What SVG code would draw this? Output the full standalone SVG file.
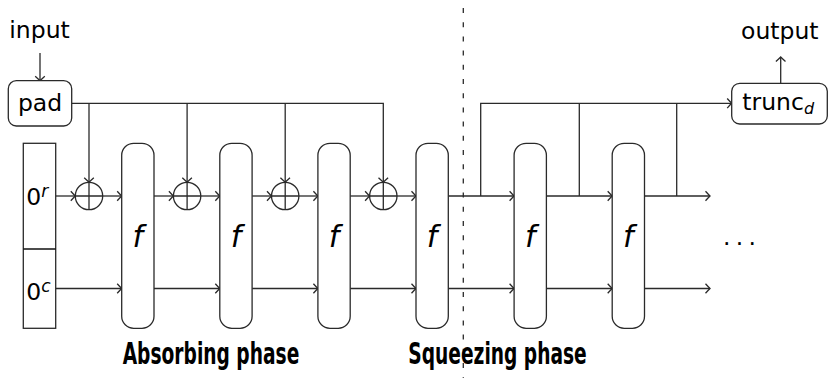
<svg xmlns="http://www.w3.org/2000/svg" width="828" height="378" viewBox="0 0 828 378">
<style>
.ln{fill:none;stroke:#2a2a2a;stroke-width:1.3}
.ar{marker-end:url(#to)}
.box{fill:#fff;stroke:#2a2a2a;stroke-width:1.3}
.t{font-family:"DejaVu Sans",sans-serif;font-size:23.5px;fill:#000}
.it{font-style:italic}
.f{font-family:"DejaVu Sans",sans-serif;font-style:italic;font-size:30px;text-anchor:middle}
.b{font-family:"DejaVu Sans",sans-serif;font-weight:bold;font-size:30px}
</style>
<defs>
<marker id="to" markerUnits="userSpaceOnUse" markerWidth="12" markerHeight="12" refX="0" refY="0" viewBox="-6 -6 12 12" orient="auto" overflow="visible">
<path d="M-4.5,-4.8 Q-1.2,-1.2 0,0 Q-1.2,1.2 -4.5,4.8" fill="none" stroke="#2a2a2a" stroke-width="1.3"/>
</marker>
</defs>

<g id="connectors">
<line class="ln ar" x1="40" y1="53" x2="40" y2="80.7"/>
<line class="ln ar" x1="780.7" y1="83.3" x2="780.7" y2="57"/>
<polyline class="ln ar" points="71.7,103.3 383.3,103.3 383.3,182.3"/>
<line class="ln ar" x1="89" y1="103.3" x2="89" y2="182.3"/>
<line class="ln ar" x1="187.1" y1="103.3" x2="187.1" y2="182.3"/>
<line class="ln ar" x1="285.2" y1="103.3" x2="285.2" y2="182.3"/>
<line class="ln ar" x1="55.7" y1="196" x2="75.3" y2="196"/>
<line class="ln ar" x1="102.7" y1="196" x2="121.7" y2="196"/>
<line class="ln ar" x1="154" y1="196" x2="173.4" y2="196"/>
<line class="ln ar" x1="200.8" y1="196" x2="219.8" y2="196"/>
<line class="ln ar" x1="252.1" y1="196" x2="271.5" y2="196"/>
<line class="ln ar" x1="298.9" y1="196" x2="317.9" y2="196"/>
<line class="ln ar" x1="350.2" y1="196" x2="369.6" y2="196"/>
<line class="ln ar" x1="397" y1="196" x2="416" y2="196"/>
<line class="ln ar" x1="448.3" y1="196" x2="514.1" y2="196"/>
<line class="ln ar" x1="546.4" y1="196" x2="612.2" y2="196"/>
<line class="ln ar" x1="644.5" y1="196" x2="710" y2="196"/>
<line class="ln ar" x1="55.7" y1="288.5" x2="121.7" y2="288.5"/>
<line class="ln ar" x1="154" y1="288.5" x2="219.8" y2="288.5"/>
<line class="ln ar" x1="252.1" y1="288.5" x2="317.9" y2="288.5"/>
<line class="ln ar" x1="350.2" y1="288.5" x2="416" y2="288.5"/>
<line class="ln ar" x1="448.3" y1="288.5" x2="514.1" y2="288.5"/>
<line class="ln ar" x1="546.4" y1="288.5" x2="612.2" y2="288.5"/>
<line class="ln ar" x1="644.5" y1="288.5" x2="710" y2="288.5"/>
<polyline class="ln ar" points="480.7,196 480.7,103.3 731.7,103.3"/>
<line class="ln" x1="579.3" y1="103.3" x2="579.3" y2="196"/>
<line class="ln" x1="676.7" y1="103.3" x2="676.7" y2="196"/>
</g>

<line id="divider" x1="463.3" y1="8" x2="463.3" y2="378" stroke="#2a2a2a" stroke-width="1.3" stroke-dasharray="5 9.2"/>

<g id="input"><text class="t" x="9.3" y="37.7">input</text></g>
<g id="output"><text class="t" x="741" y="39">output</text></g>
<g id="pad">
<rect class="box" x="8.3" y="80.7" width="63.4" height="45.3" rx="8"/>
<text class="t" x="40" y="111" text-anchor="middle">pad</text>
</g>
<g id="trunc">
<rect class="box" x="731.7" y="83.3" width="95.6" height="40.7" rx="8"/>
<text class="t" x="742.3" y="110">trunc<tspan class="it" font-size="16" dy="4">d</tspan></text>
</g>
<g id="state">
<rect class="box" x="23.3" y="143.3" width="32.4" height="185"/>
<line x1="23.3" y1="249" x2="55.7" y2="249" stroke="#111" stroke-width="1.6"/>
<text class="t" x="26.2" y="205" font-size="24">0<tspan class="it" font-size="17" dy="-8.5">r</tspan></text>
<text class="t" x="26.2" y="300" font-size="24">0<tspan class="it" font-size="17" dy="-8">c</tspan></text>
</g>

<g id="xor1"><circle class="ln" cx="89" cy="196" r="13.7"/><path class="ln" d="M75.3,196H102.7M89,182.3V209.7"/></g>
<g id="xor2"><circle class="ln" cx="187.1" cy="196" r="13.7"/><path class="ln" d="M173.4,196H200.8M187.1,182.3V209.7"/></g>
<g id="xor3"><circle class="ln" cx="285.2" cy="196" r="13.7"/><path class="ln" d="M271.5,196H298.9M285.2,182.3V209.7"/></g>
<g id="xor4"><circle class="ln" cx="383.3" cy="196" r="13.7"/><path class="ln" d="M369.6,196H397M383.3,182.3V209.7"/></g>

<g id="f1"><rect class="box" x="121.7" y="143.3" width="32.3" height="185" rx="12"/><text class="f" x="137.85" y="246.7">f</text></g>
<g id="f2"><rect class="box" x="219.8" y="143.3" width="32.3" height="185" rx="12"/><text class="f" x="235.95" y="246.7">f</text></g>
<g id="f3"><rect class="box" x="317.9" y="143.3" width="32.3" height="185" rx="12"/><text class="f" x="334.05" y="246.7">f</text></g>
<g id="f4"><rect class="box" x="416" y="143.3" width="32.3" height="185" rx="12"/><text class="f" x="432.15" y="246.7">f</text></g>
<g id="f5"><rect class="box" x="514.1" y="143.3" width="32.3" height="185" rx="12"/><text class="f" x="530.25" y="246.7">f</text></g>
<g id="f6"><rect class="box" x="612.2" y="143.3" width="32.3" height="185" rx="12"/><text class="f" x="628.35" y="246.7">f</text></g>

<g id="dots"><text class="t" font-size="18" x="726.7 739.5 752.3" y="245" text-anchor="middle">...</text></g>

<g id="labels">
<text class="b" x="122.7" y="363.5" textLength="176.6" lengthAdjust="spacingAndGlyphs">Absorbing phase</text>
<text class="b" x="408.3" y="363.5" textLength="178.4" lengthAdjust="spacingAndGlyphs">Squeezing phase</text>
</g>
</svg>
